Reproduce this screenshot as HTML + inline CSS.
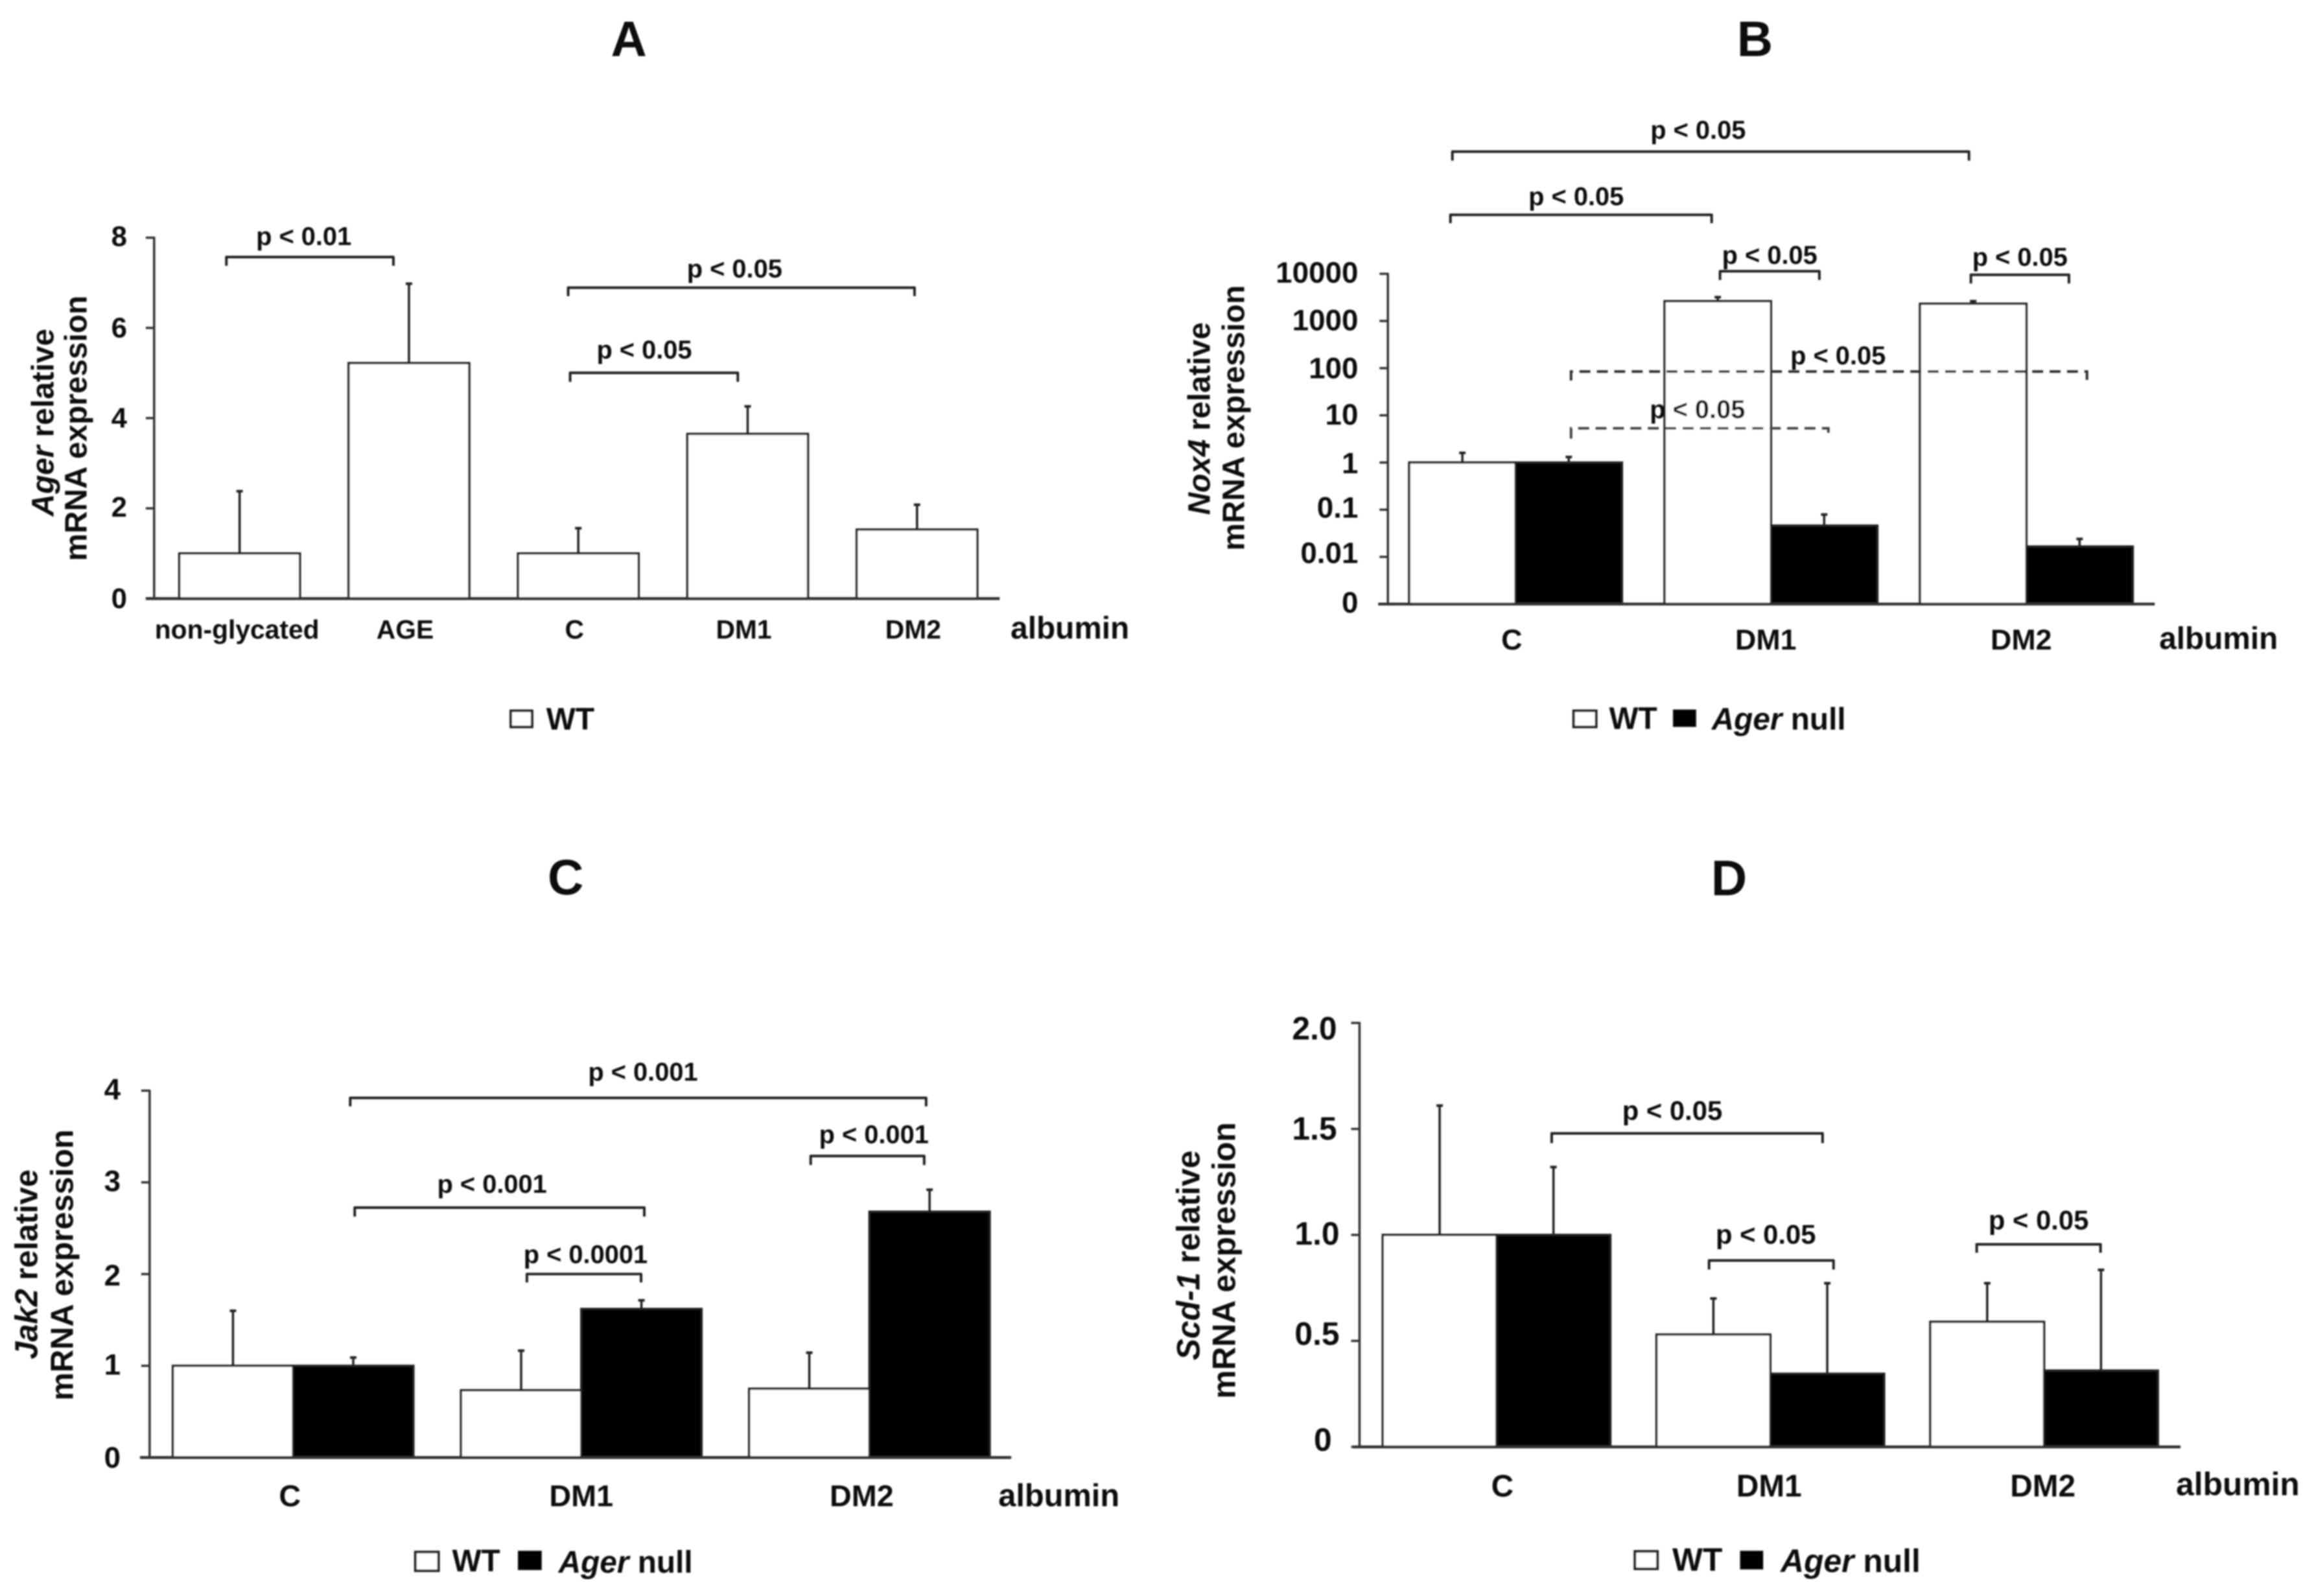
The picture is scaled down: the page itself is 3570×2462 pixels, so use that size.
<!DOCTYPE html>
<html lang="en">
<head>
<meta charset="utf-8">
<title>Ager, Nox4, Jak2 and Scd-1 relative mRNA expression</title>
<style>
html,body{margin:0;padding:0;background:#fff;width:3570px;height:2462px;overflow:hidden}
svg{display:block}
text{font-family:"Liberation Sans",Arial,sans-serif;font-weight:700;fill:#111}
.title{font-size:77px;text-anchor:middle}
.p{font-size:40px;text-anchor:middle}
.alb{font-size:48px}
.leg{font-size:48px}
.i{font-style:italic}
.br{fill:none;stroke:#222;stroke-width:4;stroke-linejoin:round}
.da{fill:none;stroke:#333;stroke-width:4;stroke-dasharray:17 10}
.sw{fill:#fff;stroke:#222;stroke-width:4}
.sb{fill:#000;stroke:#111;stroke-width:2}
</style>
</head>
<body>
<svg id="root" xmlns="http://www.w3.org/2000/svg" width="3570" height="2462" viewBox="0 0 3570 2462">
<defs><filter id="soft" x="0" y="0" width="100%" height="100%" filterUnits="objectBoundingBox"><feGaussianBlur stdDeviation="1.1"/></filter></defs>
<rect width="3570" height="2462" fill="#fff"/>
<g filter="url(#soft)">
<g id="marks"></g>
<g transform="scale(.995)">
<text class="title" x="975" y="87">A</text>
<text transform="translate(83 655) rotate(-90)" text-anchor="middle" font-size="48"><tspan class="i">Ager</tspan> relative</text>
<text transform="translate(134 664) rotate(-90)" text-anchor="middle" font-size="48">mRNA expression</text>
<text class="alb" x="1567" y="990">albumin</text>
<path class="br" d="M351 412V398.5H610V412"/>
<text class="p" x="471" y="380">p &lt; 0.01</text>
<path class="br" d="M881 459V446H1418V459"/>
<text class="p" x="1139" y="430">p &lt; 0.05</text>
<path class="br" d="M884 592V578H1144V592"/>
<text class="p" x="999" y="556">p &lt; 0.05</text>
<rect class="sw" x="792" y="1102" width="33" height="25"/>
<text class="leg" x="847" y="1131">WT</text>
</g>
<g transform="translate(8.925 0) scale(.995)">
<text class="title" x="2712" y="87">B</text>
<text transform="translate(1867 649) rotate(-90)" text-anchor="middle" font-size="48"><tspan class="i">Nox4</tspan> relative</text>
<text transform="translate(1920 648) rotate(-90)" text-anchor="middle" font-size="48">mRNA expression</text>
<text class="alb" x="3339" y="1006">albumin</text>
<path class="br" d="M2243 249V235H3044V249"/>
<text class="p" x="2624" y="215">p &lt; 0.05</text>
<path class="br" d="M2240 346V333H2645V346"/>
<text class="p" x="2435" y="318">p &lt; 0.05</text>
<path class="br" d="M2658 434V420.5H2812V434"/>
<text class="p" x="2735" y="409">p &lt; 0.05</text>
<path class="br" d="M3047 439.5V426H3199V439.5"/>
<text class="p" x="3123" y="412">p &lt; 0.05</text>
<path class="da" d="M2427 590V576H3227V589"/>
<text class="p" x="2841" y="565">p &lt; 0.05</text>
<path class="da" style="stroke:#444" d="M2427 680V664H2826V679"/>
<text class="p" x="2623" y="648">p &lt; 0.05</text>
<rect class="sw" x="2431" y="1102" width="35" height="25"/>
<text class="leg" x="2486" y="1130">WT</text>
<rect class="sb" x="2586" y="1101" width="34" height="25"/>
<text class="leg" x="2645" y="1131"><tspan class="i">Ager</tspan> null</text>
</g>
<g transform="translate(0 6.155) scale(.995)">
<text class="title" x="877" y="1381">C</text>
<text transform="translate(58 1954) rotate(-90)" text-anchor="middle" font-size="49"><tspan class="i">Jak2</tspan> relative</text>
<text transform="translate(113 1955) rotate(-90)" text-anchor="middle" font-size="49">mRNA expression</text>
<text class="alb" x="1548" y="2329" style="font-size:49px">albumin</text>
<path class="br" d="M543 1709V1696H1436V1709"/>
<text class="p" x="997" y="1669">p &lt; 0.001</text>
<path class="br" d="M550 1880V1866H999V1880"/>
<text class="p" x="763" y="1843">p &lt; 0.001</text>
<path class="br" d="M817 1982V1969H994V1982"/>
<text class="p" x="908" y="1952">p &lt; 0.0001</text>
<path class="br" d="M1257 1800V1786H1433V1800"/>
<text class="p" x="1355" y="1766">p &lt; 0.001</text>
<rect class="sw" x="644" y="2400" width="36" height="29"/>
<text class="leg" x="701" y="2430">WT</text>
<rect class="sb" x="804" y="2399" width="35" height="28"/>
<text class="leg" x="866" y="2432"><tspan class="i">Ager</tspan> null</text>
</g>
<g transform="translate(8.925 6.155) scale(.995)">
<text class="title" x="2672" y="1382">D</text>
<text transform="translate(1851 1940) rotate(-90)" text-anchor="middle" font-size="50"><tspan class="i">Scd-1</tspan> relative</text>
<text transform="translate(1906 1948) rotate(-90)" text-anchor="middle" font-size="50">mRNA expression</text>
<text class="alb" x="3365" y="2312" style="font-size:50px">albumin</text>
<path class="br" d="M2397 1766V1751H2817V1766"/>
<text class="p" x="2584" y="1730" style="font-size:42px">p &lt; 0.05</text>
<path class="br" d="M2641 1962V1948H2834V1962"/>
<text class="p" x="2729" y="1922" style="font-size:42px">p &lt; 0.05</text>
<path class="br" d="M3056 1936V1923H3248V1936"/>
<text class="p" x="3152" y="1900" style="font-size:42px">p &lt; 0.05</text>
<rect class="sw" x="2526" y="2399" width="35" height="27"/>
<text class="leg" x="2584" y="2429" style="font-size:50px">WT</text>
<rect class="sb" x="2690" y="2399" width="34" height="27"/>
<text class="leg" x="2752" y="2431" style="font-size:50px"><tspan class="i">Ager</tspan> null</text>
</g>
</g>
</svg>
<script>
// Panel A data
const categoriesA = ["non-glycated", "AGE", "C", "DM1", "DM2"];
const wtValuesA = [1, 5.22, 1, 3.65, 1.53];
const wtErrorTopsA = [2.38, 6.98, 1.56, 4.26, 2.08];
const tickValuesA = [0, 2, 4, 6, 8];
const tickLabelsA = ["0", "2", "4", "6", "8"];

// Panel B data (log axis; the "0" tick sits at 0.001)
const categoriesB = ["C", "DM1", "DM2"];
const wtValuesB = [1, 2630, 2320];
const wtErrorTopsB = [1.6, 3200, 2630];
const nullValuesB = [1, 0.046, 0.0166];
const nullErrorTopsB = [1.31, 0.079, 0.024];
const tickValuesB = [0.001, 0.01, 0.1, 1, 10, 100, 1000, 10000];
const tickLabelsB = ["0", "0.01", "0.1", "1", "10", "100", "1000", "10000"];

// Panel C data
const categoriesC = ["C", "DM1", "DM2"];
const wtValuesC = [1, 0.733, 0.75];
const wtErrorTopsC = [1.6, 1.165, 1.143];
const nullValuesC = [1, 1.62, 2.68];
const nullErrorTopsC = [1.09, 1.714, 2.92];
const tickValuesC = [0, 1, 2, 3, 4];
const tickLabelsC = ["0", "1", "2", "3", "4"];

// Panel D data
const categoriesD = ["C", "DM1", "DM2"];
const wtValuesD = [1, 0.53, 0.59];
const wtErrorTopsD = [1.61, 0.7, 0.772];
const nullValuesD = [1, 0.345, 0.36];
const nullErrorTopsD = [1.32, 0.772, 0.835];
const tickValuesD = [0, 0.5, 1, 1.5, 2];
const tickLabelsD = ["0", "0.5", "1.0", "1.5", "2.0"];

const SVG_NS = "http://www.w3.org/2000/svg";
const marks = document.getElementById("marks");

function linearAxis(min, max, bottom, top) {
  return function (v) { return bottom + (v - min) / (max - min) * (top - bottom); };
}
function logAxis(min, max, bottom, top) {
  return function (v) {
    return bottom + (Math.log10(v) - Math.log10(min)) / (Math.log10(max) - Math.log10(min)) * (top - bottom);
  };
}
function bandAxis(start, step) {
  return function (i) { return start + i * step; };
}

function shape(parent, tag, props, name) {
  const el = document.createElementNS(SVG_NS, tag);
  for (const k in props) el.setAttribute(k, props[k]);
  
  
  parent.appendChild(el);
  return el;
}

function drawBar(g, x, w, yTop, yBase, errTop, fill, name) {
  const cx = x + w / 2;
  shape(g, "line", {x1: cx, x2: cx, y1: yTop, y2: errTop, stroke: "#222", "stroke-width": 3.5}, name + "-error-bar");
  shape(g, "line", {x1: cx - 5, x2: cx + 5, y1: errTop, y2: errTop, stroke: "#222", "stroke-width": 4}, name + "-error-cap");
  shape(g, "rect", {x: x, y: yTop, width: w, height: yBase - yTop, fill: fill, stroke: "#222", "stroke-width": 3.5}, name);
}

function drawPanel(p) {
  const g = shape(marks, "g", {transform: p.transform}, "panel-" + p.id + "-chart");
  const yBase = p.y(p.tickValues[0]);
  const band = bandAxis(p.start, p.step);
  const groupW = p.nullValues ? p.barW * 2 : p.barW;

  p.categories.forEach(function (cat, i) {
    const x = band(i);
    const key = cat.toLowerCase();
    drawBar(g, x, p.barW, p.y(p.wtValues[i]), yBase, p.y(p.wtErrorTops[i]), "#fff", "panel-" + p.id + "-bar-wt-" + key);
    if (p.nullValues) {
      drawBar(g, x + p.barW, p.barW, p.y(p.nullValues[i]), yBase, p.y(p.nullErrorTops[i]), "#000", "panel-" + p.id + "-bar-null-" + key);
    }
    const label = shape(g, "text", {x: x + groupW / 2 + p.catShift[i], y: p.catBaseline, "text-anchor": "middle", "font-size": p.catSize}, "panel-" + p.id + "-category-" + key);
    label.textContent = cat;
  });

  const yTop = p.y(p.tickValues[p.tickValues.length - 1]);
  shape(g, "line", {x1: p.axisX, x2: p.axisX, y1: yTop - 1.5, y2: yBase, stroke: "#333", "stroke-width": 3.5}, "panel-" + p.id + "-y-axis");
  shape(g, "line", {x1: p.baseFrom, x2: p.baseTo, y1: yBase, y2: yBase, stroke: "#333", "stroke-width": 4.5}, "panel-" + p.id + "-x-axis");

  p.tickValues.forEach(function (v, i) {
    const y = p.y(v);
    shape(g, "line", {x1: p.axisX - 13, x2: p.axisX, y1: y, y2: y, stroke: "#333", "stroke-width": 3.5}, "panel-" + p.id + "-y-tick");
    const t = shape(g, "text", {x: p.tickRight + p.tickNudgeX[i], y: y + p.tickSize * 0.358 + p.tickNudgeY[i], "text-anchor": "end", "font-size": p.tickSize}, "panel-" + p.id + "-y-tick-label");
    t.textContent = p.tickLabels[i];
  });
}

drawPanel({
  id: "a", categories: categoriesA, wtValues: wtValuesA, wtErrorTops: wtErrorTopsA,
  tickValues: tickValuesA, tickLabels: tickLabelsA,
  transform: "scale(.995)",
  y: linearAxis(0, 8, 928, 368.5),
  axisX: 239, baseFrom: 226, baseTo: 1550, start: 278, step: 262.6, barW: 187,
  tickRight: 197, tickSize: 44, tickNudgeX: [0, 0, 0, 0, 0], tickNudgeY: [-1, -3, -1, -1, -3],
  catBaseline: 990, catSize: 41, catShift: [-4, -6, -6, -6, -6]
});
drawPanel({
  id: "b", categories: categoriesB, wtValues: wtValuesB, wtErrorTops: wtErrorTopsB,
  nullValues: nullValuesB, nullErrorTops: nullErrorTopsB,
  tickValues: tickValuesB, tickLabels: tickLabelsB,
  transform: "translate(8.925 0) scale(.995)",
  y: logAxis(0.001, 10000, 936.5, 424.5),
  axisX: 2143, baseFrom: 2128, baseTo: 3332, start: 2176, step: 396, barW: 165,
  tickRight: 2097, tickSize: 46, tickNudgeX: [0, 0, 0, 0, 0, 0, 0, 0], tickNudgeY: [-3, -7, -4, 0, -2, -1, -2, -3],
  catBaseline: 1007, catSize: 45, catShift: [-6, -8, -8]
});
drawPanel({
  id: "c", categories: categoriesC, wtValues: wtValuesC, wtErrorTops: wtErrorTopsC,
  nullValues: nullValuesC, nullErrorTops: nullErrorTopsC,
  tickValues: tickValuesC, tickLabels: tickLabelsC,
  transform: "translate(0 6.155) scale(.995)",
  y: linearAxis(0, 4, 2253.5, 1684.7),
  axisX: 232, baseFrom: 217, baseTo: 1568, start: 268, step: 446.8, barW: 186.5,
  tickRight: 187, tickSize: 46, tickNudgeX: [0, 0, 0, 0, 0], tickNudgeY: [-1, -3, 1, -3, -3],
  catBaseline: 2329, catSize: 47, catShift: [-5, 0, -12]
});
drawPanel({
  id: "d", categories: categoriesD, wtValues: wtValuesD, wtErrorTops: wtErrorTopsD,
  nullValues: nullValuesD, nullErrorTops: nullErrorTopsD,
  tickValues: tickValuesD, tickLabels: tickLabelsD,
  transform: "translate(8.925 6.155) scale(.995)",
  y: linearAxis(0, 2, 2237, 1579.7),
  axisX: 2099, baseFrom: 2089, baseTo: 3372, start: 2135, step: 424.5, barW: 176.5,
  tickRight: 2064, tickSize: 50, tickNudgeX: [-8, 4, 4, 0, 0], tickNudgeY: [-12, -12, -3, -1.5, 8],
  catBaseline: 2314, catSize: 48, catShift: [9, -2, -2]
});
</script>
</body>
</html>
